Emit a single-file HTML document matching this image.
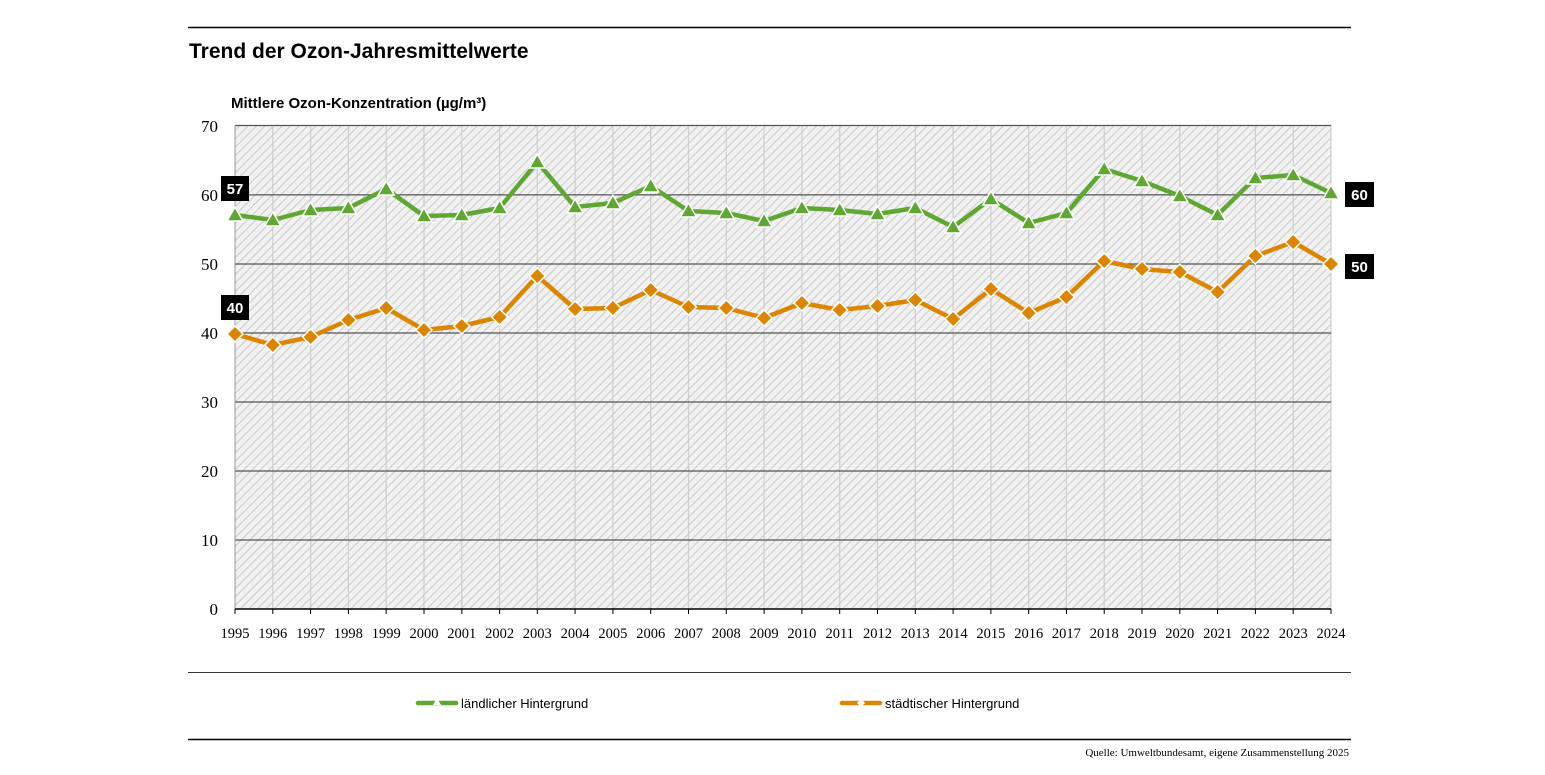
<!DOCTYPE html>
<html><head><meta charset="utf-8"><style>
body{margin:0;background:#fff}
svg{display:block;font-family:"Liberation Sans",sans-serif}
</style></head><body>
<svg width="1545" height="775" viewBox="0 0 1545 775" xmlns="http://www.w3.org/2000/svg">
<defs>
<pattern id="h" width="6" height="6" patternUnits="userSpaceOnUse" patternTransform="rotate(45)">
<rect width="6" height="6" fill="#f1f1f1"/><line x1="0" y1="0" x2="0" y2="6" stroke="#c6c6c6" stroke-width="1.8"/>
</pattern>
<path id="tri" d="M0,-8 L8,6 L-8,6 Z" fill="#5ea832" stroke="#fff" stroke-width="1.5"/>
<path id="dia" d="M0,-8 L8,0 L0,8 L-8,0 Z" fill="#dc8500" stroke="#fff" stroke-width="1.5"/>
</defs>
<line x1="188" y1="27.5" x2="1351" y2="27.5" stroke="#000" stroke-width="1.5"/>
<text x="189" y="58" font-size="21" font-weight="bold">Trend der Ozon-Jahresmittelwerte</text>
<text x="231" y="108" font-size="15" font-weight="bold">Mittlere Ozon-Konzentration (µg/m³)</text>
<rect x="235" y="125" width="1096" height="484" fill="url(#h)"/>
<g stroke="#cfcfcf" stroke-width="1.3">
<line x1="272.8" y1="125" x2="272.8" y2="609"/><line x1="310.6" y1="125" x2="310.6" y2="609"/><line x1="348.4" y1="125" x2="348.4" y2="609"/><line x1="386.2" y1="125" x2="386.2" y2="609"/><line x1="424" y1="125" x2="424" y2="609"/><line x1="461.8" y1="125" x2="461.8" y2="609"/><line x1="499.6" y1="125" x2="499.6" y2="609"/><line x1="537.3" y1="125" x2="537.3" y2="609"/><line x1="575.1" y1="125" x2="575.1" y2="609"/><line x1="612.9" y1="125" x2="612.9" y2="609"/><line x1="650.7" y1="125" x2="650.7" y2="609"/><line x1="688.5" y1="125" x2="688.5" y2="609"/><line x1="726.3" y1="125" x2="726.3" y2="609"/><line x1="764.1" y1="125" x2="764.1" y2="609"/><line x1="801.9" y1="125" x2="801.9" y2="609"/><line x1="839.7" y1="125" x2="839.7" y2="609"/><line x1="877.5" y1="125" x2="877.5" y2="609"/><line x1="915.3" y1="125" x2="915.3" y2="609"/><line x1="953.1" y1="125" x2="953.1" y2="609"/><line x1="990.9" y1="125" x2="990.9" y2="609"/><line x1="1028.7" y1="125" x2="1028.7" y2="609"/><line x1="1066.4" y1="125" x2="1066.4" y2="609"/><line x1="1104.2" y1="125" x2="1104.2" y2="609"/><line x1="1142" y1="125" x2="1142" y2="609"/><line x1="1179.8" y1="125" x2="1179.8" y2="609"/><line x1="1217.6" y1="125" x2="1217.6" y2="609"/><line x1="1255.4" y1="125" x2="1255.4" y2="609"/><line x1="1293.2" y1="125" x2="1293.2" y2="609"/><line x1="1331" y1="125" x2="1331" y2="609"/>
</g>
<g stroke="#555" stroke-width="1.2">
<line x1="235" y1="125.5" x2="1331" y2="125.5"/><line x1="235" y1="194.9" x2="1331" y2="194.9"/><line x1="235" y1="264" x2="1331" y2="264"/><line x1="235" y1="333" x2="1331" y2="333"/><line x1="235" y1="402" x2="1331" y2="402"/><line x1="235" y1="471" x2="1331" y2="471"/><line x1="235" y1="540" x2="1331" y2="540"/>
</g>
<line x1="235" y1="125" x2="235" y2="609" stroke="#999" stroke-width="1"/>
<line x1="235" y1="609" x2="1331" y2="609" stroke="#000" stroke-width="1.5"/>
<g stroke="#000" stroke-width="1">
<line x1="235" y1="609" x2="235" y2="614"/><line x1="272.8" y1="609" x2="272.8" y2="614"/><line x1="310.6" y1="609" x2="310.6" y2="614"/><line x1="348.4" y1="609" x2="348.4" y2="614"/><line x1="386.2" y1="609" x2="386.2" y2="614"/><line x1="424" y1="609" x2="424" y2="614"/><line x1="461.8" y1="609" x2="461.8" y2="614"/><line x1="499.6" y1="609" x2="499.6" y2="614"/><line x1="537.3" y1="609" x2="537.3" y2="614"/><line x1="575.1" y1="609" x2="575.1" y2="614"/><line x1="612.9" y1="609" x2="612.9" y2="614"/><line x1="650.7" y1="609" x2="650.7" y2="614"/><line x1="688.5" y1="609" x2="688.5" y2="614"/><line x1="726.3" y1="609" x2="726.3" y2="614"/><line x1="764.1" y1="609" x2="764.1" y2="614"/><line x1="801.9" y1="609" x2="801.9" y2="614"/><line x1="839.7" y1="609" x2="839.7" y2="614"/><line x1="877.5" y1="609" x2="877.5" y2="614"/><line x1="915.3" y1="609" x2="915.3" y2="614"/><line x1="953.1" y1="609" x2="953.1" y2="614"/><line x1="990.9" y1="609" x2="990.9" y2="614"/><line x1="1028.7" y1="609" x2="1028.7" y2="614"/><line x1="1066.4" y1="609" x2="1066.4" y2="614"/><line x1="1104.2" y1="609" x2="1104.2" y2="614"/><line x1="1142" y1="609" x2="1142" y2="614"/><line x1="1179.8" y1="609" x2="1179.8" y2="614"/><line x1="1217.6" y1="609" x2="1217.6" y2="614"/><line x1="1255.4" y1="609" x2="1255.4" y2="614"/><line x1="1293.2" y1="609" x2="1293.2" y2="614"/><line x1="1331" y1="609" x2="1331" y2="614"/>
</g>
<g font-family="Liberation Serif,serif" font-size="17" text-anchor="end">
<text x="218" y="132">70</text><text x="218" y="201">60</text><text x="218" y="270">50</text><text x="218" y="339">40</text><text x="218" y="408">30</text><text x="218" y="477">20</text><text x="218" y="546">10</text><text x="218" y="615">0</text>
</g>
<g font-family="Liberation Serif,serif" font-size="14.5" text-anchor="middle">
<text x="235" y="638">1995</text><text x="272.8" y="638">1996</text><text x="310.6" y="638">1997</text><text x="348.4" y="638">1998</text><text x="386.2" y="638">1999</text><text x="424" y="638">2000</text><text x="461.8" y="638">2001</text><text x="499.6" y="638">2002</text><text x="537.3" y="638">2003</text><text x="575.1" y="638">2004</text><text x="612.9" y="638">2005</text><text x="650.7" y="638">2006</text><text x="688.5" y="638">2007</text><text x="726.3" y="638">2008</text><text x="764.1" y="638">2009</text><text x="801.9" y="638">2010</text><text x="839.7" y="638">2011</text><text x="877.5" y="638">2012</text><text x="915.3" y="638">2013</text><text x="953.1" y="638">2014</text><text x="990.9" y="638">2015</text><text x="1028.7" y="638">2016</text><text x="1066.4" y="638">2017</text><text x="1104.2" y="638">2018</text><text x="1142" y="638">2019</text><text x="1179.8" y="638">2020</text><text x="1217.6" y="638">2021</text><text x="1255.4" y="638">2022</text><text x="1293.2" y="638">2023</text><text x="1331" y="638">2024</text>
</g>
<polyline fill="none" stroke="#5ea832" stroke-width="4.5" stroke-linejoin="round" points="235,215 272.8,220 310.6,210 348.4,208 386.2,189 424,216 461.8,215 499.6,208 537.3,162 575.1,207 612.9,203 650.7,186 688.5,211 726.3,213 764.1,221 801.9,208 839.7,210 877.5,214 915.3,208 953.1,227 990.9,199 1028.7,223 1066.4,213 1104.2,169 1142,181 1179.8,196 1217.6,215 1255.4,178 1293.2,175 1331,193"/>
<polyline fill="none" stroke="#dc8500" stroke-width="4.5" stroke-linejoin="round" points="235,334 272.8,345 310.6,337 348.4,320 386.2,308 424,330 461.8,326 499.6,317 537.3,276 575.1,309 612.9,308 650.7,290 688.5,307 726.3,308 764.1,318 801.9,303 839.7,310 877.5,306 915.3,300 953.1,319 990.9,289 1028.7,313 1066.4,297 1104.2,261 1142,269 1179.8,272 1217.6,292 1255.4,256 1293.2,242 1331,264"/>
<g>
<use href="#tri" x="235" y="215"/><use href="#tri" x="272.8" y="220"/><use href="#tri" x="310.6" y="210"/><use href="#tri" x="348.4" y="208"/><use href="#tri" x="386.2" y="189"/><use href="#tri" x="424" y="216"/><use href="#tri" x="461.8" y="215"/><use href="#tri" x="499.6" y="208"/><use href="#tri" x="537.3" y="162"/><use href="#tri" x="575.1" y="207"/><use href="#tri" x="612.9" y="203"/><use href="#tri" x="650.7" y="186"/><use href="#tri" x="688.5" y="211"/><use href="#tri" x="726.3" y="213"/><use href="#tri" x="764.1" y="221"/><use href="#tri" x="801.9" y="208"/><use href="#tri" x="839.7" y="210"/><use href="#tri" x="877.5" y="214"/><use href="#tri" x="915.3" y="208"/><use href="#tri" x="953.1" y="227"/><use href="#tri" x="990.9" y="199"/><use href="#tri" x="1028.7" y="223"/><use href="#tri" x="1066.4" y="213"/><use href="#tri" x="1104.2" y="169"/><use href="#tri" x="1142" y="181"/><use href="#tri" x="1179.8" y="196"/><use href="#tri" x="1217.6" y="215"/><use href="#tri" x="1255.4" y="178"/><use href="#tri" x="1293.2" y="175"/><use href="#tri" x="1331" y="193"/>
<use href="#dia" x="235" y="334"/><use href="#dia" x="272.8" y="345"/><use href="#dia" x="310.6" y="337"/><use href="#dia" x="348.4" y="320"/><use href="#dia" x="386.2" y="308"/><use href="#dia" x="424" y="330"/><use href="#dia" x="461.8" y="326"/><use href="#dia" x="499.6" y="317"/><use href="#dia" x="537.3" y="276"/><use href="#dia" x="575.1" y="309"/><use href="#dia" x="612.9" y="308"/><use href="#dia" x="650.7" y="290"/><use href="#dia" x="688.5" y="307"/><use href="#dia" x="726.3" y="308"/><use href="#dia" x="764.1" y="318"/><use href="#dia" x="801.9" y="303"/><use href="#dia" x="839.7" y="310"/><use href="#dia" x="877.5" y="306"/><use href="#dia" x="915.3" y="300"/><use href="#dia" x="953.1" y="319"/><use href="#dia" x="990.9" y="289"/><use href="#dia" x="1028.7" y="313"/><use href="#dia" x="1066.4" y="297"/><use href="#dia" x="1104.2" y="261"/><use href="#dia" x="1142" y="269"/><use href="#dia" x="1179.8" y="272"/><use href="#dia" x="1217.6" y="292"/><use href="#dia" x="1255.4" y="256"/><use href="#dia" x="1293.2" y="242"/><use href="#dia" x="1331" y="264"/>
</g>
<g font-size="15" font-weight="bold">
<rect x="221" y="176" width="28" height="25" fill="#000"/><text x="235" y="194" fill="#fff" text-anchor="middle">57</text>
<rect x="221" y="295" width="28" height="25" fill="#000"/><text x="235" y="313" fill="#fff" text-anchor="middle">40</text>
<rect x="1345" y="182" width="29" height="25" fill="#000"/><text x="1359.5" y="200" fill="#fff" text-anchor="middle">60</text>
<rect x="1345" y="254" width="29" height="25" fill="#000"/><text x="1359.5" y="272" fill="#fff" text-anchor="middle">50</text>
</g>
<line x1="188" y1="672.5" x2="1351" y2="672.5" stroke="#333" stroke-width="1"/>
<line x1="418" y1="703" x2="456" y2="703" stroke="#5ea832" stroke-width="4.5" stroke-linecap="round"/>
<path d="M437,698 L441,705 L433,705 Z" fill="#fff"/>
<text x="461" y="708" font-size="13">ländlicher Hintergrund</text>
<line x1="842" y1="703" x2="880" y2="703" stroke="#dc8500" stroke-width="4.5" stroke-linecap="round"/>
<path d="M861,699 L865,703 L861,707 L857,703 Z" fill="#fff"/>
<text x="885" y="708" font-size="13">städtischer Hintergrund</text>
<line x1="188" y1="739.5" x2="1351" y2="739.5" stroke="#000" stroke-width="1.5"/>
<text x="1349" y="756" font-size="11" font-family="Liberation Serif,serif" text-anchor="end">Quelle: Umweltbundesamt, eigene Zusammenstellung 2025</text>
</svg>
</body></html>
